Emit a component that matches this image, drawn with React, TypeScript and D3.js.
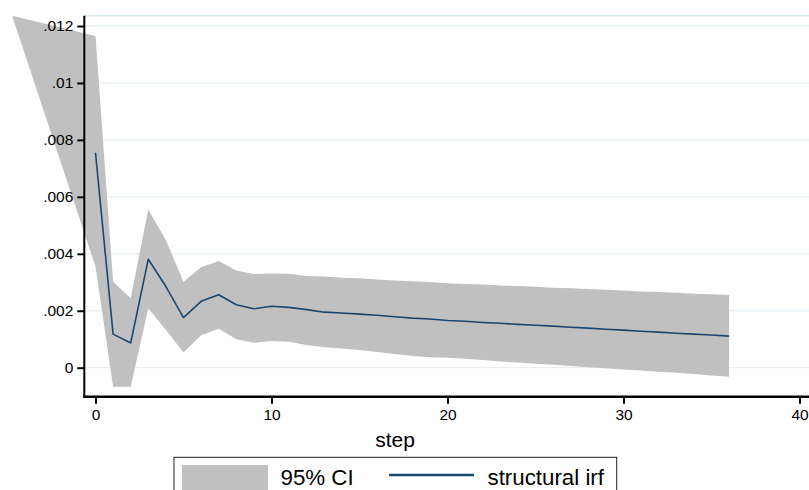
import React, { useEffect, useRef } from "react";
import * as d3 from "d3";

// impulse response, steps 0..36
const steps = d3.range(0, 37);
const irf = [
  0.00755, 0.00118, 0.00087, 0.00381, 0.00285, 0.00176, 0.00233, 0.00256, 0.00221, 0.00207,
  0.00216, 0.00212, 0.00204, 0.00195, 0.00192, 0.00188, 0.00184, 0.00179, 0.00174, 0.00171,
  0.00166, 0.00163, 0.00159, 0.00156, 0.00152, 0.00149, 0.00146, 0.00142, 0.00139, 0.00135,
  0.00132, 0.00128, 0.00125, 0.00121, 0.00118, 0.00115, 0.00111,
];
const ciUpper = [
  0.01165, 0.00302, 0.00244, 0.00556, 0.00448, 0.00302, 0.00353, 0.00375, 0.00341, 0.00329,
  0.00331, 0.0033, 0.00322, 0.0032, 0.00316, 0.00314, 0.0031, 0.00306, 0.00304, 0.00301,
  0.00297, 0.00294, 0.00292, 0.00289, 0.00287, 0.00284, 0.00281, 0.00279, 0.00276, 0.00274,
  0.00271, 0.00268, 0.00266, 0.00263, 0.0026, 0.00258, 0.00255,
];
const ciLower = [
  0.00355, -0.00067, -0.00067, 0.00209, 0.00132, 0.00053, 0.00114, 0.00137, 0.001, 0.00088,
  0.00094, 0.00091, 0.0008, 0.00072, 0.00067, 0.00062, 0.00055, 0.00048, 0.00041, 0.00037,
  0.00035, 0.00031, 0.00027, 0.00022, 0.00018, 0.00014, 0.0001, 0.00006, 0.00002, -0.00002,
  -0.00006, -0.0001, -0.00014, -0.00018, -0.00022, -0.00027, -0.00032,
];
// stray vertex of the band polygon that pokes out left of the y axis
const bandTip = { step: -4.74, value: 0.01236 };

const yTicks = [0, 0.002, 0.004, 0.006, 0.008, 0.01, 0.012];
const xTicks = [0, 10, 20, 30, 40];

const FONT = "'Liberation Sans', Arial, Helvetica, sans-serif";
const BAND = "#c0c0c0";
const LINE = "#1a476f";

export default function App() {
  const ref = useRef<SVGSVGElement>(null);

  useEffect(() => {
    const svg = d3.select(ref.current);
    svg.selectAll("*").remove();

    const W = 809;
    const H = 490;
    const plot = { left: 84.3, top: 15.7, right: 812, bottom: 396.7 };

    const x = d3.scaleLinear().domain([0, 40]).range([95.5, 799.5]);
    const y = d3.scaleLinear().domain([0, 0.012]).range([367.7, 26]);

    svg.attr("width", W).attr("height", H).attr("viewBox", `0 0 ${W} ${H}`);
    svg.append("rect").attr("width", W).attr("height", H).attr("fill", "#fff");

    // grid
    svg
      .append("g")
      .selectAll("line")
      .data(yTicks)
      .join("line")
      .attr("x1", plot.left)
      .attr("x2", plot.right)
      .attr("y1", (d) => y(d))
      .attr("y2", (d) => y(d))
      .attr("stroke", "#e6eff3")
      .attr("stroke-width", 1.3);

    svg
      .append("line")
      .attr("x1", plot.left)
      .attr("x2", plot.right)
      .attr("y1", plot.top)
      .attr("y2", plot.top)
      .attr("stroke", "#d7e5ee")
      .attr("stroke-width", 1.5);

    // CI band
    const pts = steps.map((s, i) => ({ s, lo: ciLower[i], hi: ciUpper[i] }));
    const withTip = [{ s: bandTip.step, lo: bandTip.value, hi: bandTip.value }, ...pts];
    const area = d3
      .area<{ s: number; lo: number; hi: number }>()
      .x((d) => x(d.s))
      .y0((d) => y(d.lo))
      .y1((d) => y(d.hi));
    svg.append("path").attr("d", area(withTip)!).attr("fill", BAND);

    // irf line
    const line = d3
      .line<number>()
      .x((_, i) => x(steps[i]))
      .y((d) => y(d));
    svg
      .append("path")
      .attr("d", line(irf)!)
      .attr("fill", "none")
      .attr("stroke", LINE)
      .attr("stroke-width", 1.6)
      .attr("stroke-linejoin", "round");

    // y axis
    const yAxis = svg
      .append("g")
      .attr("transform", `translate(${plot.left},0)`)
      .call(
        d3
          .axisLeft(y)
          .tickValues(yTicks)
          .tickSize(7)
          .tickPadding(4)
          .tickFormat((d) => {
            const v = +d;
            if (v === 0) return "0";
            return d3.format("")(+v.toFixed(3)).replace(/^0/, "");
          })
      );
    yAxis.select(".domain").remove();
    yAxis.selectAll("line").attr("stroke", "#000").attr("stroke-width", 2);
    yAxis
      .selectAll("text")
      .attr("fill", "#000")
      .style("font-family", FONT)
      .style("font-size", "15.5px");
    svg
      .append("line")
      .attr("x1", plot.left)
      .attr("x2", plot.left)
      .attr("y1", plot.top)
      .attr("y2", plot.bottom + 1)
      .attr("stroke", "#000")
      .attr("stroke-width", 2);

    // x axis
    const xAxis = svg
      .append("g")
      .attr("transform", `translate(0,${plot.bottom})`)
      .call(d3.axisBottom(x).tickValues(xTicks).tickSize(7).tickPadding(5).tickFormat(d3.format("d")));
    xAxis.select(".domain").remove();
    xAxis.selectAll("line").attr("stroke", "#000").attr("stroke-width", 2);
    xAxis
      .selectAll("text")
      .attr("fill", "#000")
      .style("font-family", FONT)
      .style("font-size", "15.5px");
    svg
      .append("line")
      .attr("x1", plot.left - 1)
      .attr("x2", plot.right)
      .attr("y1", plot.bottom)
      .attr("y2", plot.bottom)
      .attr("stroke", "#000")
      .attr("stroke-width", 2.5);

    svg
      .append("text")
      .attr("x", 395)
      .attr("y", 446.5)
      .attr("text-anchor", "middle")
      .style("font-family", FONT)
      .style("font-size", "21px")
      .text("step");

    // legend
    const lg = svg.append("g");
    lg.append("rect")
      .attr("x", 174)
      .attr("y", 457.3)
      .attr("width", 442.7)
      .attr("height", 60)
      .attr("fill", "#fff")
      .attr("stroke", "#222")
      .attr("stroke-width", 1);
    lg.append("rect").attr("x", 182).attr("y", 465).attr("width", 86).attr("height", 40).attr("fill", BAND);
    lg.append("text")
      .attr("x", 280.5)
      .attr("y", 484.5)
      .style("font-family", FONT)
      .style("font-size", "22.3px")
      .text("95% CI");
    lg.append("line")
      .attr("x1", 389)
      .attr("x2", 474)
      .attr("y1", 475)
      .attr("y2", 475)
      .attr("stroke", LINE)
      .attr("stroke-width", 2.5);
    lg.append("text")
      .attr("x", 487.5)
      .attr("y", 484.5)
      .style("font-family", FONT)
      .style("font-size", "22.3px")
      .text("structural irf");
  }, []);

  return (
    <div style={{ position: "absolute", left: 0, top: 0 }}>
      <svg ref={ref} style={{ display: "block" }}></svg>
    </div>
  );
}
